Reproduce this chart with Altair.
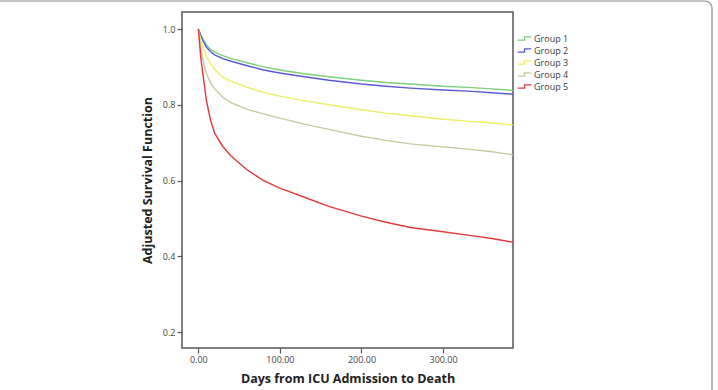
import altair as alt
import pandas as pd

# Adjusted survival curves by group (days since ICU admission)
days = [0, 3, 6, 10, 15, 20, 30, 40, 60, 80, 100, 130, 160, 200, 230, 260, 300, 330, 360, 386]

group1 = [1.0, 0.985, 0.972, 0.958, 0.946, 0.939, 0.930, 0.922, 0.911, 0.900, 0.892, 0.882, 0.874, 0.865, 0.859, 0.855, 0.849, 0.846, 0.842, 0.838]
group2 = [1.0, 0.983, 0.968, 0.952, 0.940, 0.932, 0.922, 0.915, 0.903, 0.892, 0.884, 0.874, 0.865, 0.855, 0.849, 0.844, 0.839, 0.836, 0.832, 0.828]
group3 = [1.0, 0.972, 0.950, 0.928, 0.908, 0.894, 0.873, 0.862, 0.846, 0.833, 0.823, 0.811, 0.800, 0.787, 0.778, 0.771, 0.762, 0.757, 0.752, 0.747]
group4 = [1.0, 0.950, 0.915, 0.882, 0.858, 0.842, 0.820, 0.806, 0.788, 0.776, 0.765, 0.749, 0.735, 0.717, 0.706, 0.697, 0.689, 0.683, 0.676, 0.668]
group5 = [1.0, 0.925, 0.875, 0.810, 0.760, 0.725, 0.690, 0.665, 0.628, 0.600, 0.580, 0.556, 0.532, 0.506, 0.490, 0.476, 0.465, 0.456, 0.447, 0.437]

groups = ["Group 1", "Group 2", "Group 3", "Group 4", "Group 5"]
colors = ["#7ccf7c", "#5a5ad8", "#eeee66", "#c8c8a2", "#e03a3a"]

rows = []
for name, vals in zip(groups, [group1, group2, group3, group4, group5]):
    for d, v in zip(days, vals):
        rows.append({"day": d, "surv": v, "group": name})
df = pd.DataFrame(rows)

# small step glyph for the legend entries
step_symbol = "M -1.5 0.35 L 0 0.35 L 0 -0.35 L 1.5 -0.35"

curves = alt.Chart(df).mark_line(strokeWidth=1.4, clip=True).encode(
    x=alt.X(
        "day:Q",
        scale=alt.Scale(domain=[-20, 385.7], nice=False, zero=False),
        axis=alt.Axis(values=[0, 100, 200, 300], format=".2f",
                      title="Days from ICU Admission to Death"),
    ),
    y=alt.Y(
        "surv:Q",
        scale=alt.Scale(domain=[0.158, 1.045], nice=False, zero=False),
        axis=alt.Axis(values=[0.2, 0.4, 0.6, 0.8, 1.0], format=".1f",
                      title="Adjusted Survival Function"),
    ),
    color=alt.Color(
        "group:N",
        scale=alt.Scale(domain=groups, range=colors),
        legend=alt.Legend(
            title=None, orient="none", legendX=337, legendY=21,
            symbolType=step_symbol, symbolSize=81, symbolStrokeWidth=1.3,
            labelFontSize=9, labelColor="#3a3a3a", labelFont="Open Sans",
            rowPadding=1, labelOffset=4, symbolOffset=0,
        ),
    ),
    order="day:Q",
)

# light rounded figure border (top and right edges fall inside the canvas)
border = alt.Chart(pd.DataFrame({"b": [0]})).mark_rect(
    fill=None, stroke="#8a8a8a", strokeWidth=1.2, cornerRadius=7,
).encode(
    x=alt.value(-190), x2=alt.value(530),
    y=alt.value(-11), y2=alt.value(400),
)

chart = alt.layer(curves, border).properties(
    width=331, height=336,
    autosize=alt.AutoSizeParams(type="none"),
    padding={"left": 182, "top": 12, "right": 205, "bottom": 42},
).configure_view(
    stroke="#555555", strokeWidth=1.5,
).configure_axis(
    grid=False,
    domain=False,
    tickColor="#555555", tickSize=5, tickWidth=1.2,
    labelFont="Open Sans", labelFontSize=9, labelColor="#444444", labelPadding=2,
    titleFont="Open Sans", titleFontSize=12.5, titleFontWeight="bold", titleColor="#222222",
).configure_axisX(
    titlePadding=8,
).configure_axisY(
    titlePadding=8,
)

chart.save("out.html", embed_options={"renderer": "svg", "actions": False})
